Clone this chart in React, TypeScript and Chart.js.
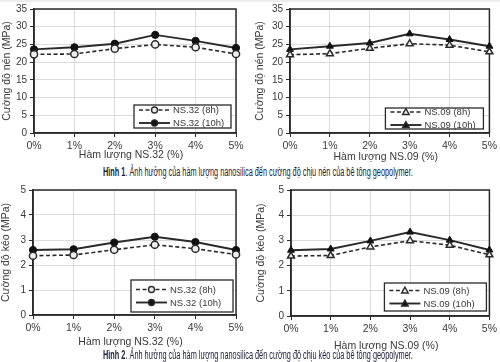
import React, { useEffect, useLayoutEffect, useRef } from 'react';
import { Chart, registerables } from 'chart.js';

Chart.register(...registerables);

// ---------- data ----------
const categories = ['0%', '1%', '2%', '3%', '4%', '5%'];

const ns32Comp8h = [22.2, 22.3, 23.8, 25.0, 24.2, 22.3];
const ns32Comp10h = [23.6, 24.2, 25.2, 27.7, 26.0, 24.0];
const ns09Comp8h = [22.1, 22.4, 23.9, 25.2, 24.8, 22.9];
const ns09Comp10h = [23.6, 24.5, 25.4, 28.0, 26.4, 24.5];

const ns32Tens8h = [2.37, 2.40, 2.61, 2.81, 2.65, 2.42];
const ns32Tens10h = [2.60, 2.63, 2.90, 3.13, 2.92, 2.60];
const ns09Tens8h = [2.38, 2.40, 2.74, 2.99, 2.81, 2.43];
const ns09Tens10h = [2.61, 2.66, 2.98, 3.33, 3.01, 2.62];

const compAxis = { min: 0, max: 35, step: 5 };
const tensAxis = { min: 0, max: 5, step: 1 };

const compTitle = 'Cường độ nén (MPa)';
const tensTitle = 'Cường độ kéo (MPa)';
const xTitle32 = 'Hàm lượng NS.32 (%)';
const xTitle09 = 'Hàm lượng NS.09 (%)';

const caption1Label = 'Hình 1';
const caption1Text = '. Ảnh hưởng của hàm lượng nanosilica đến cường độ chịu nén của bê tông geopolymer.';
const caption2Label = 'Hình 2';
const caption2Text = '. Ảnh hưởng của hàm lượng nanosilica đến cường độ chịu kéo của bê tông geopolymer.';

// ---------- styling ----------
const FONT = '"Liberation Sans", Arial, sans-serif';
const TEXT = '#3a3a3a';
const LINE = '#2a2a2a';

function drawMarker(ctx: CanvasRenderingContext2D, style: string, x: number, y: number, r: number, fill: string) {
  ctx.save();
  ctx.beginPath();
  if (style === 'triangle') {
    const h = r * 1.1;
    ctx.moveTo(x, y - h);
    ctx.lineTo(x + h, y + h * 0.75);
    ctx.lineTo(x - h, y + h * 0.75);
    ctx.closePath();
  } else {
    ctx.arc(x, y, r, 0, Math.PI * 2);
  }
  ctx.fillStyle = fill;
  ctx.fill();
  ctx.lineWidth = 1.4;
  ctx.strokeStyle = LINE;
  ctx.stroke();
  ctx.restore();
}

const framePlugin = {
  id: 'frameBox',
  beforeDatasetsDraw(chart: any) {
    const { ctx, chartArea: a } = chart;
    ctx.save();
    ctx.strokeStyle = LINE;
    ctx.lineWidth = 1.5;
    ctx.strokeRect(a.left, a.top, a.right - a.left, a.bottom - a.top);
    ctx.restore();
  },
};

const xTitlePlugin = {
  id: 'xTitleText',
  afterDraw(chart: any, _args: any, opts: any) {
    const { ctx, chartArea: a } = chart;
    ctx.save();
    ctx.fillStyle = TEXT;
    ctx.font = `10.5px ${FONT}`;
    ctx.textAlign = 'center';
    ctx.textBaseline = 'middle';
    ctx.fillText(opts.text, (a.left + a.right) / 2 + opts.dx, a.bottom + opts.dy);
    ctx.restore();
  },
};

const legendPlugin = {
  id: 'boxLegend',
  afterDraw(chart: any, _args: any, opts: any) {
    const { ctx, chartArea: a } = chart;
    const right = a.right - opts.right;
    const bottom = a.bottom - opts.bottom;
    const left = right - opts.width;
    const top = bottom - opts.height;
    ctx.save();
    ctx.fillStyle = '#fff';
    ctx.fillRect(left, top, opts.width, opts.height);
    ctx.strokeStyle = LINE;
    ctx.lineWidth = 1.3;
    ctx.strokeRect(left, top, opts.width, opts.height);
    const cy = top + opts.height / 2;
    const rows = [cy - 6.5, cy + 6.5];
    chart.data.datasets.forEach((ds: any, i: number) => {
      const y = rows[i];
      ctx.beginPath();
      ctx.setLineDash(ds.borderDash || []);
      ctx.strokeStyle = LINE;
      ctx.lineWidth = ds.borderWidth;
      ctx.moveTo(left + 5, y);
      ctx.lineTo(left + 36, y);
      ctx.stroke();
      ctx.setLineDash([]);
      drawMarker(ctx, ds.pointStyle, left + 20.5, y, 3, ds.pointBackgroundColor);
      ctx.fillStyle = TEXT;
      ctx.font = `9.5px ${FONT}`;
      ctx.textBaseline = 'middle';
      ctx.fillText(ds.label, left + 39, y + 0.5);
    });
    ctx.restore();
  },
};

type PanelProps = {
  left: number; top: number; width: number; height: number;
  plotLeft: number; plotRight: number; plotTop: number; plotBottom: number;
  yTitlePad: number; xTitleDy: number;
  axis: { min: number; max: number; step: number };
  yTitle: string; xTitle: string;
  name: string; s8: number[]; s10: number[]; marker: string;
  legend: { right: number; bottom: number; width: number; height: number };
};

function Panel(p: PanelProps) {
  const ref = useRef<HTMLCanvasElement>(null);
  useEffect(() => {
    const yAxisW = p.plotLeft - p.left;
    const padTop = p.plotTop - p.top;
    const padRight = p.left + p.width - p.plotRight;
    const xAxisH = p.top + p.height - p.plotBottom;
    const r = p.marker === 'triangle' ? 4 : 3.6;
    const chart = new Chart(ref.current as HTMLCanvasElement, {
      type: 'line',
      data: {
        labels: categories,
        datasets: [
          {
            label: `${p.name} (8h)`,
            data: p.s8,
            borderColor: LINE,
            borderWidth: 1.6,
            borderDash: [4, 2.5],
            pointStyle: p.marker,
            pointRadius: r,
            pointBackgroundColor: '#eeeeee',
            pointBorderColor: LINE,
            pointBorderWidth: 1.5,
            tension: 0,
          },
          {
            label: `${p.name} (10h)`,
            data: p.s10,
            borderColor: LINE,
            borderWidth: 1.9,
            pointStyle: p.marker,
            pointRadius: r,
            pointBackgroundColor: '#111',
            pointBorderColor: '#111',
            pointBorderWidth: 1,
            tension: 0,
          },
        ] as any,
      },
      options: {
        responsive: false,
        animation: false,
        devicePixelRatio: 1,
        layout: { padding: { top: padTop, right: padRight, left: 0, bottom: 0 } },
        plugins: {
          legend: { display: false },
          tooltip: { enabled: false },
          boxLegend: p.legend,
          xTitleText: { text: p.xTitle, dx: -4, dy: p.xTitleDy },
        } as any,
        scales: {
          x: {
            type: 'category',
            offset: false,
            grid: { color: '#dcdcdc', lineWidth: 1, tickColor: LINE, tickLength: 4, drawTicks: true },
            border: { display: true, color: LINE, width: 1.5 },
            ticks: { color: TEXT, font: { family: FONT, size: 10.5 }, padding: 3, maxRotation: 0, autoSkip: false },
            title: { display: false },
            afterFit: (s: any) => { s.height = xAxisH; },
          },
          y: {
            min: p.axis.min,
            max: p.axis.max,
            grid: { color: '#dcdcdc', lineWidth: 1, tickColor: LINE, tickLength: 4 },
            border: { display: true, color: LINE, width: 1.5 },
            ticks: { stepSize: p.axis.step, color: TEXT, font: { family: FONT, size: 10 }, padding: 3 },
            title: { display: true, text: p.yTitle, color: TEXT, font: { family: FONT, size: 10.5 }, padding: { top: p.yTitlePad, bottom: 0 } },
            afterFit: (s: any) => { s.width = yAxisW; },
          },
        },
      } as any,
      plugins: [framePlugin, legendPlugin, xTitlePlugin],
    });
    return () => chart.destroy();
  }, []);
  return (
    <canvas
      ref={ref}
      width={p.width}
      height={p.height}
      style={{ position: 'absolute', left: p.left, top: p.top, width: p.width, height: p.height }}
    />
  );
}

function Caption({ top, label, text }: { top: number; label: string; text: string }) {
  const ref = useRef<HTMLDivElement>(null);
  useLayoutEffect(() => {
    const el = ref.current!;
    const w = el.scrollWidth;
    el.style.transform = `scaleX(${310 / w})`;
  }, []);
  return (
    <div
      ref={ref}
      style={{
        position: 'absolute', left: 103, top, whiteSpace: 'nowrap', transformOrigin: '0 0',
        fontFamily: FONT, fontSize: 12.5, lineHeight: '14px', color: '#1d1d3d',
      }}
    >
      <b>{label}</b>{text}
    </div>
  );
}

export default function App() {
  return (
    <div style={{ position: 'fixed', left: 0, top: 0, width: 500, height: 362, background: '#fff', overflow: 'hidden' }}>
      <div style={{ position: 'absolute', left: 0, top: 0, width: 500, height: 2, background: '#ececec' }} />
      <Panel
        left={0} top={0} width={248} height={162}
        plotLeft={34} plotRight={236} plotTop={8} plotBottom={133}
        yTitlePad={1} xTitleDy={22}
        axis={compAxis} yTitle={compTitle} xTitle={xTitle32}
        name="NS.32" s8={ns32Comp8h} s10={ns32Comp10h} marker="circle"
        legend={{ right: 5, bottom: 5, width: 97, height: 23 }}
      />
      <Panel
        left={250} top={0} width={250} height={164}
        plotLeft={290} plotRight={493} plotTop={8} plotBottom={133}
        yTitlePad={4} xTitleDy={24}
        axis={compAxis} yTitle={compTitle} xTitle={xTitle09}
        name="NS.09" s8={ns09Comp8h} s10={ns09Comp10h} marker="triangle"
        legend={{ right: 6, bottom: 4, width: 98, height: 21 }}
      />
      <Caption top={165} label={caption1Label} text={caption1Text} />
      <Panel
        left={0} top={180} width={248} height={170}
        plotLeft={33} plotRight={236} plotTop={190} plotBottom={315}
        yTitlePad={0} xTitleDy={27}
        axis={tensAxis} yTitle={tensTitle} xTitle={xTitle32}
        name="NS.32" s8={ns32Tens8h} s10={ns32Tens10h} marker="circle"
        legend={{ right: 3, bottom: 3, width: 102, height: 32 }}
      />
      <Panel
        left={250} top={180} width={250} height={174}
        plotLeft={291} plotRight={493} plotTop={190} plotBottom={316}
        yTitlePad={5} xTitleDy={30}
        axis={tensAxis} yTitle={tensTitle} xTitle={xTitle09}
        name="NS.09" s8={ns09Tens8h} s10={ns09Tens10h} marker="triangle"
        legend={{ right: 3, bottom: 5, width: 102, height: 28 }}
      />
      <Caption top={348} label={caption2Label} text={caption2Text} />
    </div>
  );
}
